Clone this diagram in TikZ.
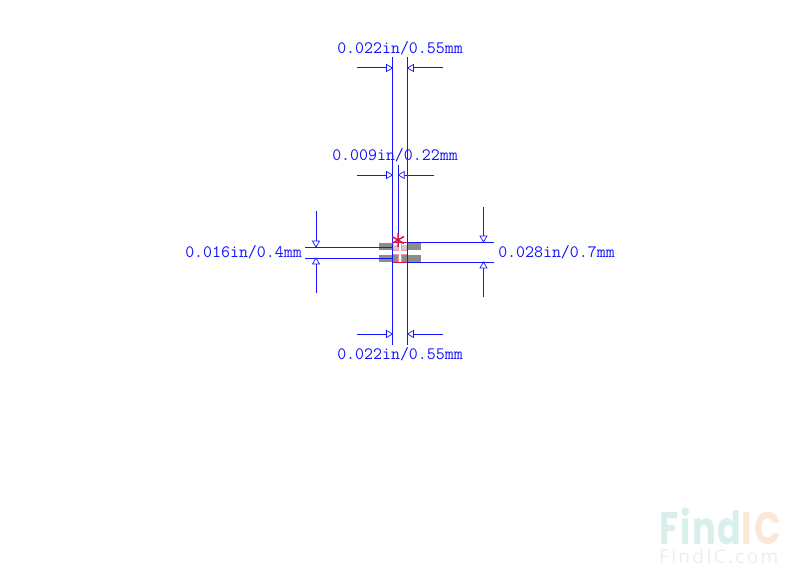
\documentclass[tikz,border=0pt]{standalone}
\usepackage{fontspec}
\newfontfamily\wmbig[LetterSpace=5]{Poppins Bold}
\newfontfamily\wmsmall[LetterSpace=12]{Open Sans}
\definecolor{dim}{RGB}{20,20,255}
\definecolor{padg}{RGB}{138,142,136}
\definecolor{redl}{RGB}{215,20,70}
\definecolor{redp}{RGB}{235,150,170}
\tikzset{
  x=1pt,y=-1pt,
  dimline/.style={draw=dim,line width=0.9pt},
  hline/.style={draw=dim,line width=1pt},
  tip/.style={draw=dim,fill=white,line width=0.7pt},
  lab/.style={text=dim,font=\ttfamily\fontsize{17.4}{17.4}\selectfont,inner sep=0pt},
  pad/.style={fill=padg,draw=none},
  outl/.style={draw=redl,line width=0.9pt,fill=none},
  cellb/.style={draw=redp,line width=0.7pt,fill=none},
  star/.style={draw=redl,line width=1.5pt},
}
\begin{document}
\begin{tikzpicture}
\useasboundingbox (0,0) rectangle (800,583);
% pads
\foreach \x/\y/\w/\h in {379/243/13/7,379/254.7/13/7,408/243/13/7,408/254.7/13/7,393/255/5.5/6.5,402/255/5.5/6.5}
  \fill[pad] (\x,\y) rectangle ++(\w,\h);
\foreach \x in {393,402}
  \fill[padg!45] (\x,245) rectangle ++(5.5,5);
% outlines
\draw[cellb] (398.5,242.5) -- (398.5,250.3) -- (392.5,250.3) (401.5,242.5) -- (401.5,250.3) -- (407.5,250.3)
  (398.5,262) -- (398.5,254.7) -- (392.5,254.7) (401.5,262) -- (401.5,254.7) -- (407.5,254.7);
\draw[outl] (392.5,242.5) rectangle (407.5,262);
\coordinate (a1) at (392.5,57); \coordinate (a2) at (392.5,345);
\coordinate (b1) at (407.5,57); \coordinate (b2) at (407.5,345);
\coordinate (c1) at (398.3,165); \coordinate (c2) at (398.3,243);
\draw[dimline] (a1)--(a2) (b1)--(b2) (c1)--(c2);
\draw[hline] (305,247)--(392.5,247) (305,258)--(392.5,258);
\draw[hline] (407.5,242)--(494,242) (407.5,262)--(494,262);
\draw[star] (398,233) -- (398,247) (392,236.5) -- (404,243.5) (392,243.5) -- (404,236.5);
% arrows
\newcommand{\hleft}[3]{\draw[hline] (#1,#3)--(#2,#3); \draw[tip] (#2,#3)--(#2-6,#3-3.5)--(#2-6,#3+3.5)--cycle;}
\newcommand{\hright}[3]{\draw[hline] (#1,#3)--(#2,#3); \draw[tip] (#2,#3)--(#2+6,#3-3.5)--(#2+6,#3+3.5)--cycle;}
\newcommand{\vdown}[3]{\draw[dimline] (#3,#1)--(#3,#2); \draw[tip] (#3,#2)--(#3-3.5,#2-6)--(#3+3.5,#2-6)--cycle;}
\newcommand{\vup}[3]{\draw[dimline] (#3,#1)--(#3,#2); \draw[tip] (#3,#2)--(#3-3.5,#2+6)--(#3+3.5,#2+6)--cycle;}
\hleft{357}{392.5}{68}
\hright{443}{407.5}{68}
\hleft{357}{392.5}{175}
\hright{434}{398.3}{175}
\hleft{357}{392.5}{334}
\hright{443}{407.5}{334}
\vdown{211}{247}{316}
\vup{293}{258}{316}
\vdown{207}{242}{483.5}
\vup{297}{262}{483.5}
% labels
\node[lab] (t1) at (400,48) {0.022in/0.55mm};
\node[lab] (t2) at (395,155) {0.009in/0.22mm};
\node[lab] (t3) at (243.5,252.5) {0.016in/0.4mm};
\node[lab] (t4) at (556.5,252.5) {0.028in/0.7mm};
\node[lab] (t5) at (400,354) {0.022in/0.55mm};
% watermark
\node[anchor=base west,inner sep=0pt,font=\fontsize{36}{36}\selectfont\wmbig] (wm) at (659,544)
  {\scalebox{0.98}[1.27]{\textcolor[RGB]{217,239,236}{Find}\textcolor[RGB]{251,232,218}{IC}}};
\node[anchor=base west,inner sep=0pt,font=\fontsize{19}{19}\selectfont\wmsmall,text={rgb,255:red,236;green,236;blue,236}] (wc) at (659,563) {FindIC.com};
\end{tikzpicture}
\end{document}
